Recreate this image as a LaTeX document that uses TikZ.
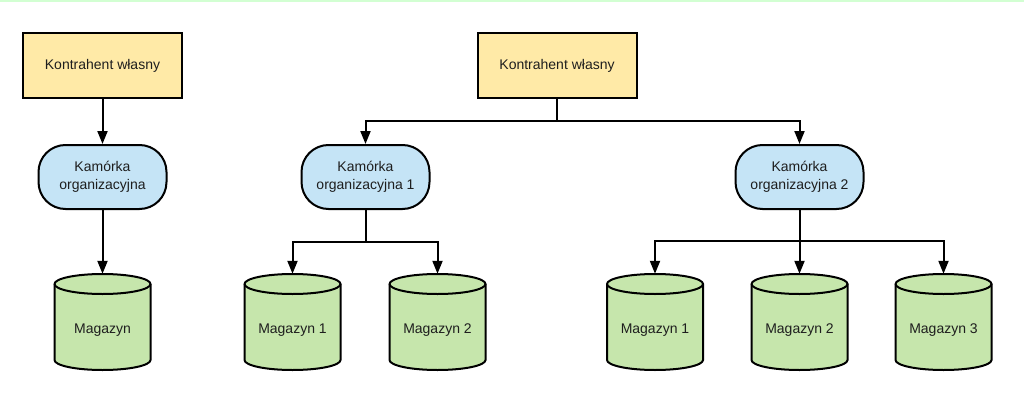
\documentclass[tikz,border=0pt]{standalone}
\usepackage{fontspec}
\setmainfont{Liberation Sans}
\usetikzlibrary{arrows.meta}
\definecolor{rectY}{RGB}{255,234,167}
\definecolor{stadB}{RGB}{197,228,246}
\definecolor{cylG}{RGB}{198,230,172}
\definecolor{topG}{RGB}{210,255,210}
\definecolor{txt}{RGB}{30,30,30}
\newcommand\mycyl[4]{% name, cx, text, height
  \fill[cylG] (#2-48,284) -- (#2-48,360) arc (180:360:48pt and 10pt) -- (#2+48,284) arc (0:180:48pt and 10pt) -- cycle;
  \draw[line width=2pt] (#2-48,284) -- (#2-48,360) arc (180:360:48pt and 10pt) -- (#2+48,284) arc (0:180:48pt and 10pt) -- cycle;
  \draw[line width=2pt] (#2-48,284) arc (180:360:48pt and 10pt);
  \node[txt, inner sep=0, minimum width=96pt, minimum height=#4pt] (#1) at (#2,330) {#3};
}
\begin{document}
\begin{tikzpicture}[x=1pt,y=-1pt,
  font=\fontsize{14pt}{18pt}\selectfont,
  box/.style={draw, line width=2pt, fill=rectY, text=txt, minimum width=159pt, minimum height=65pt, inner sep=0},
  stad/.style={draw, line width=2pt, fill=stadB, text=txt, rounded corners=27pt, minimum width=128pt, minimum height=64pt, inner sep=0, align=center},
  conn/.style={line width=2pt, -{Triangle[length=13pt,width=10pt]}},
  plain/.style={line width=2pt}]
\useasboundingbox (0,0) rectangle (1024,401);
\fill[white] (0,0) rectangle (1024,401);
\draw[topG, line width=1.6pt] (0,0.8) -- (1024,0.8);

\node[box] (r1) at (102.5,65.5) {Kontrahent własny};
\node[box] (r2) at (557,65.5) {Kontrahent własny};

\node[stad] (k1) at (102.5,177) {Kamórka\\organizacyjna};
\node[stad] (k2) at (365.5,177) {Kamórka\\organizacyjna 1};
\node[stad] (k3) at (799.5,177) {Kamórka\\organizacyjna 2};

\mycyl{m0}{102.5}{Magazyn}{112}
\mycyl{m1}{292.5}{Magazyn 1}{112}
\mycyl{m2}{437.5}{Magazyn 2}{112}
\mycyl{m3}{655}{Magazyn 1}{112}
\mycyl{m4}{799.5}{Magazyn 2}{112}
\mycyl{m5}{943.5}{Magazyn 3}{112}

\draw[conn] (r1.south) -- (k1.north);
\draw[conn] (k1.south) -- (m0.north);

\coordinate (j0) at (557,121);
\draw[plain] (r2.south) -- (j0);
\draw[conn] (j0) -| (k2.north);
\draw[conn] (j0) -| (k3.north);

\coordinate (j1) at (365.5,242);
\draw[plain] (k2.south) -- (j1);
\draw[conn] (j1) -| (m1.north);
\draw[conn] (j1) -| (m2.north);

\coordinate (j2) at (799.5,241);
\draw[plain] (k3.south) -- (j2);
\draw[conn] (j2) -| (m3.north);
\draw[conn] (j2) -- (m4.north);
\draw[conn] (j2) -| (m5.north);
\end{tikzpicture}
\end{document}
